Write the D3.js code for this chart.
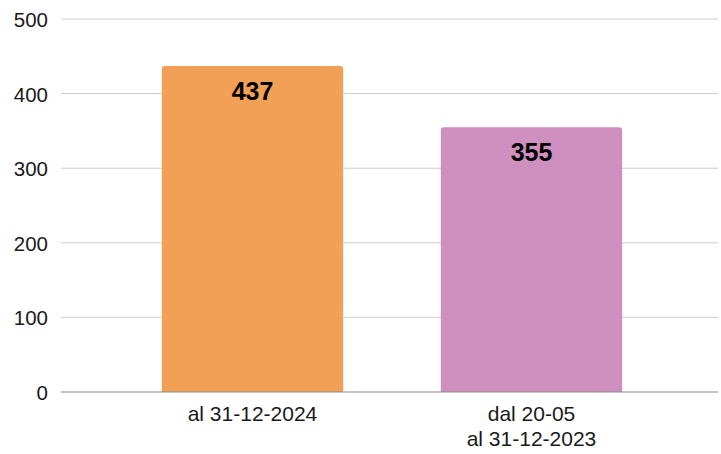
<!DOCTYPE html>
<html><head><meta charset="utf-8">
<script src="https://cdn.jsdelivr.net/npm/d3@7"></script>
<style>body{margin:0;background:#fff}svg{display:block}text{font-family:"Liberation Sans",Arial,sans-serif}</style>
</head><body><svg id="c" width="721" height="454"></svg>
<script>
const categories = [["al 31-12-2024"], ["dal 20-05", "al 31-12-2023"]];
const values = [437, 355];
const colors = ["#F3A057", "#CF90C0"];
const yTicks = [0, 100, 200, 300, 400, 500];

const svg = d3.select("#c");
const y = d3.scaleLinear().domain([0, 500]).range([392, 19]);
const x = d3.scaleBand().domain(d3.range(values.length)).range([113, 671]).paddingInner(0.35).paddingOuter(0.175);

svg.append("g").selectAll("line").data(yTicks.filter(d => d > 0)).join("line")
  .attr("x1", 61).attr("x2", 718).attr("y1", d => y(d)).attr("y2", d => y(d))
  .attr("stroke", "#cccccc").attr("stroke-width", 1);

svg.append("g").selectAll("text").data(yTicks).join("text")
  .attr("x", 48).attr("y", d => y(d) + 8).attr("text-anchor", "end")
  .attr("font-size", 20.5).attr("fill", "#1a1a1a").text(d => d);

const r = 3;
svg.append("g").selectAll("path").data(values).join("path")
  .attr("fill", (d, i) => colors[i])
  .attr("d", (d, i) => {
    const x0 = x(i), x1 = x(i) + x.bandwidth(), yt = y(d), yb = y(0);
    return `M${x0},${yb}V${yt + r}Q${x0},${yt} ${x0 + r},${yt}H${x1 - r}Q${x1},${yt} ${x1},${yt + r}V${yb}Z`;
  });

svg.append("line").attr("x1", 61).attr("x2", 718).attr("y1", y(0)).attr("y2", y(0))
  .attr("stroke", "#8a8a8a").attr("stroke-width", 1.2);

svg.append("g").selectAll("text").data(values).join("text")
  .attr("x", (d, i) => x(i) + x.bandwidth() / 2).attr("y", d => y(d) + 34)
  .attr("text-anchor", "middle").attr("font-size", 25).attr("font-weight", "bold")
  .attr("fill", "#000").text(d => d);

const cg = svg.append("g").selectAll("text").data(categories).join("text")
  .attr("text-anchor", "middle").attr("font-size", 21).attr("fill", "#1a1a1a");
cg.each(function(lines, i) {
  const t = d3.select(this);
  lines.forEach((l, j) => t.append("tspan").attr("x", x(i) + x.bandwidth() / 2).attr("y", 421 + j * 25).text(l));
});
</script></body></html>
